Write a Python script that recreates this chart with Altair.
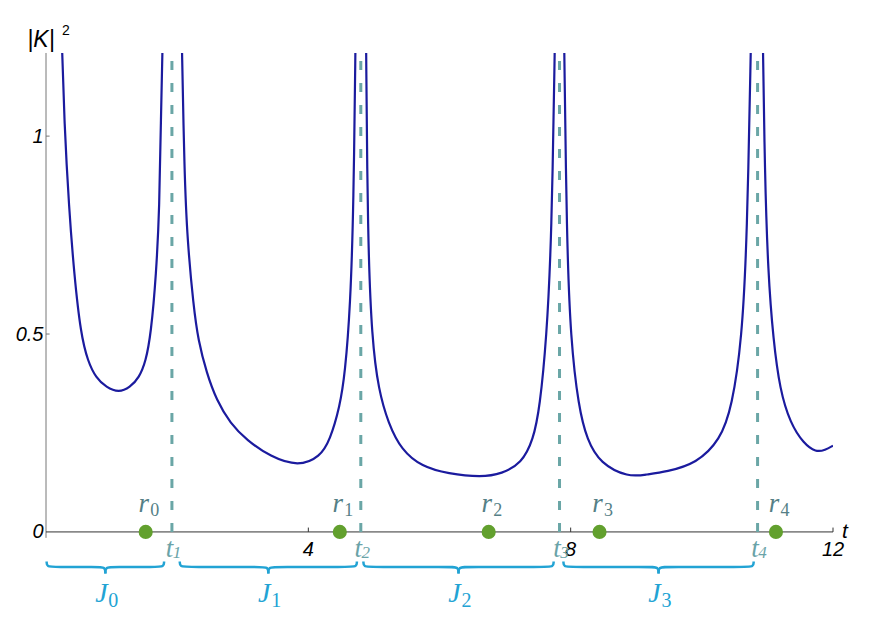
import altair as alt
import pandas as pd

# ---- curve |K|^2 (one branch between consecutive poles) ----
seg_a_x = [0.24, 0.28, 0.35, 0.43, 0.53, 0.64, 0.76, 0.92, 1.11, 1.28, 1.42, 1.52, 1.60, 1.68, 1.73, 1.75, 1.78]
seg_a_y = [1.25, 1.03, 0.82, 0.65, 0.50, 0.43, 0.39, 0.365, 0.352, 0.365, 0.39, 0.43, 0.50, 0.65, 0.82, 1.03, 1.25]
seg_b_x = [2.07, 2.11, 2.155, 2.25, 2.32, 2.45, 2.60, 2.81, 3.06, 3.42, 3.85, 4.18, 4.33, 4.48, 4.56, 4.64, 4.69, 4.72]
seg_b_y = [1.25, 0.906, 0.737, 0.569, 0.485, 0.401, 0.333, 0.274, 0.232, 0.190, 0.165, 0.190, 0.232, 0.316, 0.401, 0.569, 0.821, 1.25]
seg_c_x = [4.88, 4.905, 4.97, 5.07, 5.22, 5.42, 5.73, 6.13, 6.64, 6.95, 7.25, 7.43, 7.53, 7.63, 7.71, 7.76]
seg_c_y = [1.25, 0.737, 0.485, 0.359, 0.274, 0.207, 0.165, 0.147, 0.138, 0.147, 0.173, 0.232, 0.316, 0.485, 0.737, 1.25]
seg_d_x = [7.90, 7.94, 8.00, 8.12, 8.25, 8.45, 8.88, 9.15, 9.46, 9.92, 10.28, 10.46, 10.61, 10.69, 10.75]
seg_d_y = [1.25, 0.737, 0.485, 0.316, 0.232, 0.173, 0.138, 0.145, 0.152, 0.173, 0.232, 0.316, 0.485, 0.737, 1.25]
seg_e_x = [10.93, 10.96, 11.01, 11.09, 11.19, 11.35, 11.55, 11.74, 11.88, 12.0]
seg_e_y = [1.25, 0.906, 0.653, 0.485, 0.359, 0.274, 0.224, 0.201, 0.207, 0.218]

# ---- markers ----
t_vals = [1.92, 4.80, 7.83, 10.85]
t_subs = ["1", "2", "3", "4"]
r_vals = [1.52, 4.48, 6.75, 8.44, 11.13]
r_subs = ["0", "1", "2", "3", "4"]
j_start = [0.01, 2.04, 4.84, 7.89]
j_end = [1.80, 4.74, 7.74, 10.79]
j_subs = ["0", "1", "2", "3"]
x_tick_vals = [4, 8, 12]
x_tick_labels = ["4", "8", "12"]
y_tick_vals = [0.5, 1.0]

Y_MIN, Y_MAX = -0.22, 1.21
xs = alt.Scale(domain=[0, 12], nice=False, zero=False)
ys = alt.Scale(domain=[Y_MIN, Y_MAX], nice=False, zero=False)
yaxis = alt.Axis(values=[0, 0.5, 1], format="~g", title=None, ticks=False, domain=False,
                 grid=False, labelFont="Liberation Sans", labelFontStyle="italic",
                 labelFontSize=20, labelColor="#000", labelPadding=3)


def X(f):
    return alt.X(f, type="quantitative", scale=xs, axis=None)


def Y(f):
    return alt.Y(f, type="quantitative", scale=ys, axis=yaxis)


# curve
rows = []
for name, xx, yy in [("a", seg_a_x, seg_a_y), ("b", seg_b_x, seg_b_y), ("c", seg_c_x, seg_c_y),
                     ("d", seg_d_x, seg_d_y), ("e", seg_e_x, seg_e_y)]:
    for a, b in zip(xx, yy):
        rows.append({"seg": name, "x": a, "y": b})
curve_df = pd.DataFrame(rows)

curve = alt.Chart(curve_df).mark_line(clip=True, color="#1b1b9e", strokeWidth=2.2,
                                      interpolate="basis").encode(
    x=X("x"), y=Y("y"), detail="seg:N")

# axes lines and ticks
xaxis_df = pd.DataFrame({"x": [0], "x2": [12], "y": [0]})
xaxis_line = alt.Chart(xaxis_df).mark_rule(color="#333", strokeWidth=1).encode(
    x=X("x"), x2="x2:Q", y=Y("y"))
yaxis_df = pd.DataFrame({"x": [0], "y": [-0.015], "y2": [Y_MAX]})
yaxis_line = alt.Chart(yaxis_df).mark_rule(color="#777", strokeWidth=1).encode(
    x=X("x"), y=Y("y"), y2="y2:Q")

xt_df = pd.DataFrame({"x": x_tick_vals, "lab": x_tick_labels, "y": [0] * 3, "y2": [0.011] * 3})
xticks = alt.Chart(xt_df).mark_rule(color="#333", strokeWidth=1).encode(
    x=X("x"), y=Y("y"), y2="y2:Q")
xlabels = alt.Chart(xt_df).mark_text(font="Liberation Sans", fontStyle="italic", fontSize=20,
                                     color="#000", baseline="alphabetic", align="center",
                                     dy=24).encode(x=X("x"), y=Y("y"), text="lab:N")
yt_df = pd.DataFrame({"x": [0] * 2, "x2": [0.055] * 2, "y": y_tick_vals})
yticks = alt.Chart(yt_df).mark_rule(color="#777", strokeWidth=1).encode(
    x=X("x"), x2="x2:Q", y=Y("y"))

# axis titles
tt_df = pd.DataFrame({"x": [12], "y": [0], "lab": ["t"]})
t_title = alt.Chart(tt_df).mark_text(font="Liberation Sans", fontStyle="italic", fontSize=21,
                                     color="#000", align="center", baseline="alphabetic",
                                     dx=12, dy=6).encode(x=X("x"), y=Y("y"), text="lab:N")
kt_df = pd.DataFrame({"x": [0], "y": [Y_MAX], "lab": ["|K|"], "sup": ["2"]})
k_title = alt.Chart(kt_df).mark_text(font="Liberation Sans", fontStyle="italic", fontSize=23,
                                     color="#000", align="center", baseline="alphabetic",
                                     dx=-5, dy=-6).encode(x=X("x"), y=Y("y"), text="lab:N")
k_sup = alt.Chart(kt_df).mark_text(font="Liberation Sans", fontSize=14,
                                   color="#000", align="center", baseline="alphabetic",
                                   dx=20, dy=-18).encode(x=X("x"), y=Y("y"), text="sup:N")

# dashed t lines
t_df = pd.DataFrame({"x": t_vals, "y": [0] * 4, "y2": [Y_MAX] * 4, "sub": t_subs, "b": ["t"] * 4})
tlines = alt.Chart(t_df).mark_rule(color="#6aa6a6", strokeWidth=3, strokeDash=[9, 13]).encode(
    x=X("x"), y=Y("y"), y2="y2:Q")
t_lab = alt.Chart(t_df).mark_text(font="Liberation Serif", fontStyle="italic", fontSize=27,
                                  color="#6aa3a8", align="center", baseline="alphabetic",
                                  dx=-2.5, dy=25).encode(x=X("x"), y=Y("y"), text="b:N")
t_sub = alt.Chart(t_df).mark_text(font="Liberation Serif", fontStyle="italic", fontSize=17,
                                  color="#6aa3a8", align="center", baseline="alphabetic",
                                  dx=5, dy=26).encode(x=X("x"), y=Y("y"), text="sub:N")

# r points
r_df = pd.DataFrame({"x": r_vals, "y": [0] * 5, "sub": r_subs, "b": ["r"] * 5})
rpts = alt.Chart(r_df).mark_circle(size=200, color="#62a02e", opacity=1).encode(
    x=X("x"), y=Y("y"))
r_lab = alt.Chart(r_df).mark_text(font="Liberation Serif", fontStyle="italic", fontSize=27,
                                  color="#557f86", align="center", baseline="alphabetic",
                                  dx=-2, dy=-20).encode(x=X("x"), y=Y("y"), text="b:N")
r_sub = alt.Chart(r_df).mark_text(font="Liberation Serif", fontSize=18,
                                  color="#557f86", align="center", baseline="alphabetic",
                                  dx=9, dy=-16).encode(x=X("x"), y=Y("y"), text="sub:N")

# braces under intervals J_k
YT, YM, YP, RB = -0.075, -0.0885, -0.105, 0.13
brows = []
jl = []
for k, (x0, x1) in enumerate(zip(j_start, j_end)):
    mid = (x0 + x1) / 2
    left = [(x0, YT), (x0, YM), (x0 + RB, YM), (mid - RB, YM), (mid, YM), (mid, YP)]
    right = [(x1, YT), (x1, YM), (x1 - RB, YM), (mid + RB, YM), (mid, YM), (mid, YP)]
    for side, pts in (("L", left), ("R", right)):
        for i, (a, b) in enumerate(pts):
            brows.append({"g": f"{k}{side}", "i": i, "x": a, "y": b})
    jl.append({"x": mid, "y": 0, "b": "J", "sub": j_subs[k]})
brace_df = pd.DataFrame(brows)
j_df = pd.DataFrame(jl)
braces = alt.Chart(brace_df).mark_line(color="#22a3d4", strokeWidth=2.5, interpolate="basis").encode(
    x=X("x"), y=Y("y"), detail="g:N", order="i:Q")
j_lab = alt.Chart(j_df).mark_text(font="Liberation Serif", fontStyle="italic", fontSize=28,
                                  color="#22a3d4", align="center", baseline="alphabetic",
                                  dx=-4, dy=70).encode(x=X("x"), y=Y("y"), text="b:N")
j_sub = alt.Chart(j_df).mark_text(font="Liberation Serif", fontSize=20,
                                  color="#22a3d4", align="center", baseline="alphabetic",
                                  dx=8, dy=75).encode(x=X("x"), y=Y("y"), text="sub:N")

chart = alt.layer(
    yaxis_line, xaxis_line, xticks, yticks, tlines, curve, rpts, braces,
    xlabels, t_title, k_title, k_sup, t_lab, t_sub, r_lab, r_sub, j_lab, j_sub
).properties(
    width=787, height=566,
    padding={"left": 38, "top": 45, "right": 30, "bottom": 8},
    autosize=alt.AutoSizeParams(type="none"),
).configure_view(stroke=None)

chart.save("out.html", embed_options={"renderer": "svg", "actions": False})
